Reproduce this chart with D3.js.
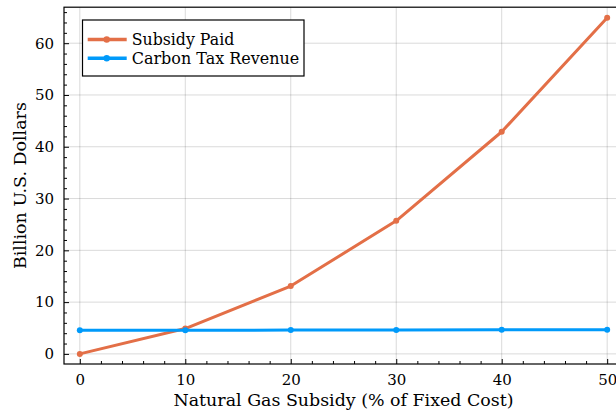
<!DOCTYPE html>
<html><head><meta charset="utf-8">
<script src="https://cdn.jsdelivr.net/npm/d3@7"></script>
<style>body{margin:0;background:#fff}svg{display:block}text{font-family:"DejaVu Serif","Liberation Serif",serif;fill:#000}</style>
</head><body><div id="chart"></div>
<script>
const subsidyPct = [0, 10, 20, 30, 40, 50];
const subsidyPaid = [0, 4.9, 13.1, 25.7, 42.9, 64.9];
const carbonTax = [4.55, 4.57, 4.6, 4.62, 4.65, 4.67];
const xTicks = [0, 10, 20, 30, 40, 50];
const yTicks = [0, 10, 20, 30, 40, 50, 60];
const seriesNames = ["Subsidy Paid", "Carbon Tax Revenue"];
const seriesColors = ["#E36F47", "#009AFA"];

const W = 616, H = 411;
const L = 64, R = 623, T = 7.2, B = 364;
const svg = d3.select("#chart").append("svg").attr("width", W).attr("height", H);
const x = d3.scaleLinear().domain([-1.5, 51.5]).range([L, R]);
const y = d3.scaleLinear().domain([-1.95, 66.95]).range([B, T]);

// grid
const g = svg.append("g");
g.selectAll(".gx").data(xTicks).enter().append("line")
  .attr("x1", d => x(d)).attr("x2", d => x(d)).attr("y1", T).attr("y2", B)
  .attr("stroke", "#000").attr("stroke-opacity", 0.15).attr("stroke-width", 1);
g.selectAll(".gy").data(yTicks).enter().append("line")
  .attr("x1", L).attr("x2", R).attr("y1", d => y(d)).attr("y2", d => y(d))
  .attr("stroke", "#000").attr("stroke-opacity", 0.15).attr("stroke-width", 1);

// axes (ticks inward)
const xMinor = d3.range(0, 52, 2).filter(v => v % 10 !== 0);
const yMinor = d3.range(0, 67, 2).filter(v => v % 10 !== 0);
const xAxis = d3.axisBottom(x).tickValues(xTicks).tickSize(-5).tickPadding(10).tickFormat(d3.format("d"));
const yAxis = d3.axisLeft(y).tickValues(yTicks).tickSize(-5).tickPadding(10).tickFormat(d3.format("d"));
const gx = svg.append("g").attr("transform", `translate(0,${B})`).call(xAxis);
const gy = svg.append("g").attr("transform", `translate(${L},0)`).call(yAxis);
[gx, gy].forEach(a => {
  a.attr("font-family", null);
  a.select(".domain").remove();
  a.selectAll("line").attr("stroke", "#000");
  a.selectAll("text").attr("font-size", 15).attr("fill", "#000");
});
gy.selectAll("text").attr("x", -10);
svg.append("g").attr("transform", `translate(0,${B})`)
  .call(d3.axisBottom(x).tickValues(xMinor).tickSize(-3).tickFormat(""))
  .call(a => { a.select(".domain").remove(); a.selectAll("line").attr("stroke", "#000"); });
svg.append("g").attr("transform", `translate(${L},0)`)
  .call(d3.axisLeft(y).tickValues(yMinor).tickSize(-3).tickFormat(""))
  .call(a => { a.select(".domain").remove(); a.selectAll("line").attr("stroke", "#000"); });

// frame
svg.append("rect").attr("x", L).attr("y", T).attr("width", R - L).attr("height", B - T)
  .attr("fill", "none").attr("stroke", "#000").attr("stroke-width", 1.2);

// series
const series = [subsidyPaid, carbonTax];
const line = d3.line().x((d, i) => x(subsidyPct[i])).y(d => y(d));
series.forEach((s, k) => {
  svg.append("path").datum(s).attr("d", line).attr("fill", "none")
    .attr("stroke", seriesColors[k]).attr("stroke-width", 3).attr("stroke-linejoin", "round");
  svg.selectAll(null).data(s).enter().append("circle")
    .attr("cx", (d, i) => x(subsidyPct[i])).attr("cy", d => y(d)).attr("r", 3)
    .attr("fill", seriesColors[k]);
});

// legend
const lg = svg.append("g");
lg.append("rect").attr("x", 82.5).attr("y", 20).attr("width", 221.5).attr("height", 56)
  .attr("fill", "#fff").attr("stroke", "#000").attr("stroke-width", 1.2);
const rowsY = [39.5, 58.3];
const textW = [102.6, 167.6];
seriesNames.forEach((n, k) => {
  lg.append("line").attr("x1", 87.7).attr("x2", 126.7).attr("y1", rowsY[k]).attr("y2", rowsY[k])
    .attr("stroke", seriesColors[k]).attr("stroke-width", 3.5);
  lg.append("circle").attr("cx", 106.7).attr("cy", rowsY[k]).attr("r", 3.2).attr("fill", seriesColors[k]);
  lg.append("text").attr("x", 131.7).attr("y", rowsY[k]).attr("dy", "0.35em")
    .attr("font-size", 16).attr("textLength", textW[k]).attr("lengthAdjust", "spacingAndGlyphs").text(n);
});

// axis labels
svg.append("text").attr("x", (L + R) / 2).attr("y", 406).attr("text-anchor", "middle")
  .attr("font-size", 17).attr("textLength", 340).attr("lengthAdjust", "spacingAndGlyphs")
  .text("Natural Gas Subsidy (% of Fixed Cost)");
svg.append("text").attr("transform", `translate(26,${(T + B) / 2}) rotate(-90)`).attr("text-anchor", "middle")
  .attr("font-size", 17).attr("textLength", 167).attr("lengthAdjust", "spacingAndGlyphs")
  .text("Billion U.S. Dollars");
</script></body></html>
